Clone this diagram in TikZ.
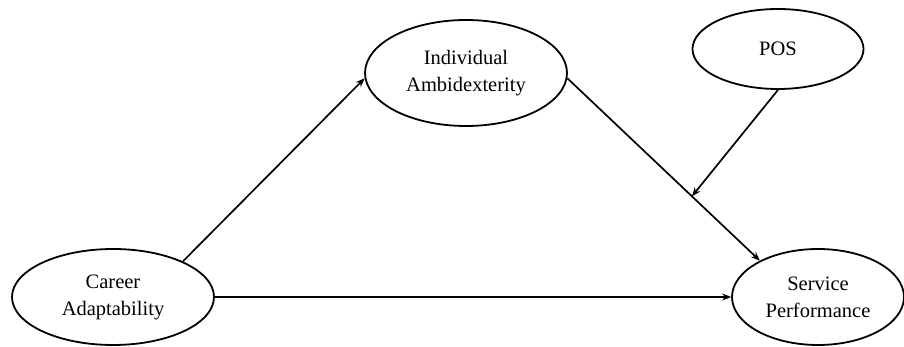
\documentclass[tikz,border=0pt]{standalone}
\usepackage{fontspec}
\setmainfont{Liberation Serif}
\usetikzlibrary{shapes.geometric,arrows.meta}
\begin{document}
\begin{tikzpicture}[x=1pt,y=1pt,
  construct/.style={ellipse,draw,line width=1.8pt,inner sep=0pt,align=center,font=\fontsize{20.5pt}{27pt}\selectfont},
  link/.style={line width=1.7pt,-{Stealth[length=9pt,width=7pt]}}]
\useasboundingbox (0,0) rectangle (904,347);
\node[construct,minimum width=202pt,minimum height=96pt] (ca) at (113,50) {Career\\Adaptability};
\node[construct,minimum width=202pt,minimum height=106pt] (ia) at (466,274) {Individual\\Ambidexterity};
\node[construct,minimum width=171pt,minimum height=80pt] (pos) at (778,298) {POS};
\node[construct,minimum width=172pt,minimum height=96pt] (sp) at (818,50) {Service\\Performance};
\draw[link] (ca.27) -- (ia.183);
\draw[link] (ca.east) -- (sp.west);
\draw[link] (ia.-3) -- coordinate[pos=0.647] (j) (sp.148);
\draw[link] (pos.south) -- (j);
\end{tikzpicture}
\end{document}
